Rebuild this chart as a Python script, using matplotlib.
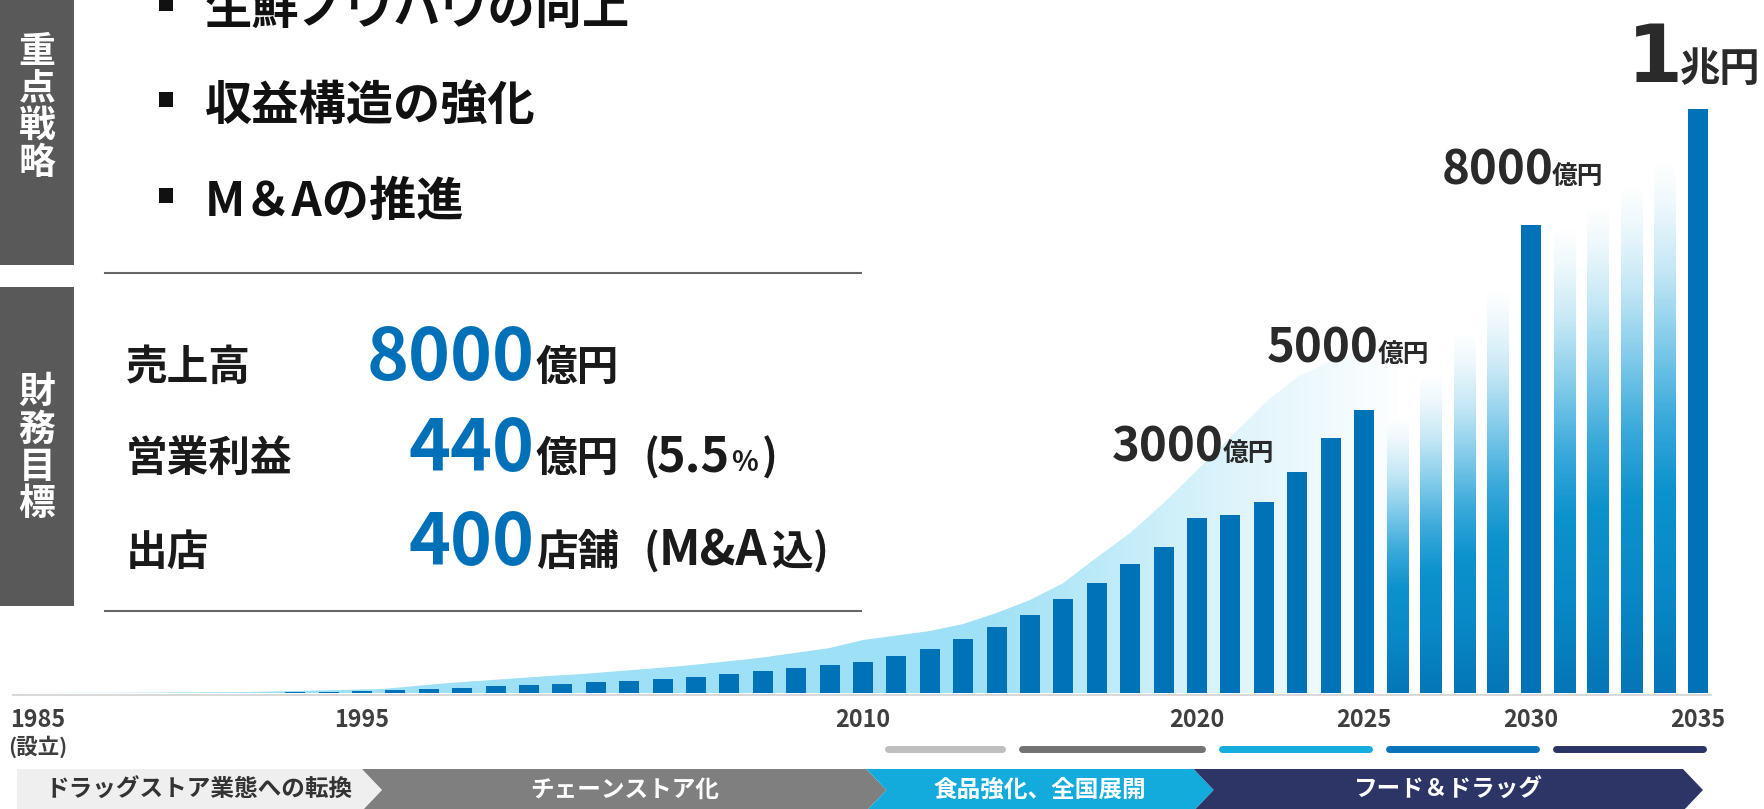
import numpy as np
import matplotlib
matplotlib.use("Agg")
import matplotlib.pyplot as plt
from matplotlib import font_manager as fm
from matplotlib.colors import LinearSegmentedColormap
from matplotlib.transforms import blended_transform_factory
from matplotlib.patches import Polygon, Rectangle

# ---------------- data ----------------
bar_years = list(range(1992, 2036))
bar_values = [3, 17, 22, 34, 51, 68, 86, 120, 137, 159, 183, 205, 240, 274,
              325, 377, 428, 479, 531, 633, 753, 924, 1130, 1335, 1609, 1883,
              2208, 2500, 2996, 3047, 3270, 3784, 4366, 4845, 4725, 5461, 6163,
              6899, 8012, 7961, 8355, 8731, 9091, 10000]
plan_years = [2026, 2027, 2028, 2029, 2031, 2032, 2033, 2034]

area_years = [1984.6, 1988, 1991.6, 1995.6, 1997.6, 2000.6, 2001.6, 2004.6,
              2006.6, 2007.1, 2009.0, 2010.0, 2012.0, 2013.0, 2014.0, 2015.0,
              2016.0, 2016.9, 2018.0, 2019.1, 2020.1, 2022.1, 2023.0, 2024.2,
              2025.1, 2026.0]
area_values = [0, 5, 17, 68, 171, 291, 325, 462, 582, 616, 770, 907, 1061,
               1181, 1370, 1592, 1883, 2277, 2739, 3304, 3869, 4999, 5410,
               5735, 5872, 5958]

tick_years = [1985, 1995, 2010, 2020, 2025, 2030, 2035]
tick_labels = ["1985", "1995", "2010", "2020", "2025", "2030", "2035"]

plan_start = [2011, 2015, 2021, 2026, 2031]
plan_end = [2014, 2020, 2025, 2030, 2035]
plan_colors = ["#bfbfbf", "#737373", "#14abdd", "#0a72b9", "#2b3467"]

era_bounds = [1984.67, 1995.0, 2010.1, 2019.9, 2034.55]
era_labels = ["ドラッグストア業態への転換", "チェーンストア化", "食品強化、全国展開", "フード＆ドラッグ"]
era_colors = ["#efefef", "#7f7f7f", "#13abdc", "#2c3566"]
era_text_colors = ["#333333", "white", "white", "white"]

strategies = ["生鮮ノウハウの向上", "収益構造の強化", "M＆Aの推進"]

# ---------------- fonts ----------------
names = {f.name for f in fm.fontManager.ttflist}
JP = "Noto Sans CJK JP"
NARROW = "Liberation Sans Narrow" if "Liberation Sans Narrow" in names else None


def nfont(sz):
    if NARROW:
        return dict(family=NARROW, size=sz, weight="bold")
    return dict(family=JP, size=sz * 0.8, weight="bold")


def jfont(sz):
    return dict(family=[JP, "DejaVu Sans"], size=sz, weight="bold")


W, H = 1765, 809
PX = 17.12  # 億円 per pixel of bar height
fig = plt.figure(figsize=(W / 100, H / 100), dpi=100)
fig.patch.set_facecolor("white")

# ---------------- chart axes ----------------
ax = fig.add_axes([12 / W, (H - 696) / H, 1700 / W, 696 / H], facecolor="none")
XL = (1984.52, 2035.42)
YL = (-3 * PX, 693 * PX)

area_cmap = LinearSegmentedColormap.from_list(
    "area", [(0, "#9ee0f6"), (0.69, "#9ee0f6"), (0.75, "#b2e7f8"),
             (0.821, "#cdeffa"), (0.893, "#e4f6fc"), (0.952, "#f3fbfe"),
             (1.0, "#ffffff")])
verts = list(zip(area_years, area_values)) + [(area_years[-1], 0), (area_years[0], 0)]
area_patch = Polygon(verts, closed=True, fc="none", ec="none")
ax.add_patch(area_patch)
hgrad = np.linspace(0, 1, 600)[None, :]
im = ax.imshow(hgrad, extent=(1984.5, 2026.5, 0, max(area_values) * 1.05),
               origin="lower", aspect="auto", cmap=area_cmap, zorder=1)
im.set_clip_path(area_patch)

ax.axhline(-1.5 * PX, color="#d9d9d9", lw=2.2, zorder=2)

solid_years = [y for y in bar_years if y not in plan_years]
solid_vals = [v for y, v in zip(bar_years, bar_values) if y not in plan_years]
grad_years = [y for y in bar_years if y in plan_years]
grad_vals = [v for y, v in zip(bar_years, bar_values) if y in plan_years]

ax.bar(solid_years, solid_vals, width=0.6, color="#0072b7", lw=0, zorder=3)
gbars = ax.bar(grad_years, grad_vals, width=0.63, color="none", lw=0, zorder=3)
bar_cmap = LinearSegmentedColormap.from_list(
    "bar", [(0, "#0576b8"), (0.2, "#0989c7"), (0.38, "#0c92cd"),
            (0.52, "#3caadb"), (0.66, "#82cbea"), (0.8, "#c6e8f6"),
            (0.92, "#eef8fc"), (1.0, "#ffffff")])
vgrad = np.linspace(0, 1, 400)[:, None]
for b in gbars:
    x0 = b.get_x()
    ax.imshow(vgrad, extent=(x0, x0 + b.get_width(), 0, b.get_height()),
              origin="lower", aspect="auto", cmap=bar_cmap, zorder=3)

ax.set_xlim(*XL)
ax.set_ylim(*YL)
ax.axis("off")

# ---------------- timeline axes ----------------
axt = fig.add_axes([12 / W, 0, 1700 / W, 84 / H], facecolor="none")
for s, e, c in zip(plan_start, plan_end, plan_colors):
    axt.plot([s - 0.25, e + 0.15], [749, 749], color=c, lw=5,
             solid_capstyle="round")
tip = 0.6
for i in range(len(era_labels)):
    a, b = era_bounds[i], era_bounds[i + 1]
    pts = [(a, 769), (b, 769), (b + tip, 790), (b, 811), (a, 811)]
    if i > 0:
        pts.append((a + tip, 790))
    axt.add_patch(Polygon(pts, closed=True, fc=era_colors[i], ec="none"))
    axt.text((a + b) / 2 + tip / 2, 797, era_labels[i], ha="center",
             va="baseline", color=era_text_colors[i], **jfont(17))
axt.set_xlim(*XL)
axt.set_ylim(809, 725)
axt.axis("off")

# ---------------- overlay (text & decorations, pixel coords) ----------------
ov = fig.add_axes([0, 0, 1, 1], facecolor="none")
ov.set_xlim(0, W)
ov.set_ylim(H, 0)
ov.axis("off")

tr = blended_transform_factory(ax.transData, ov.transData)
for y, lab in zip(tick_years, tick_labels):
    if y == tick_years[0]:
        ov.text(38, 727, lab, ha="center", va="baseline", color="#3f3f3f", **nfont(21))
    else:
        ov.text(y, 727, lab, transform=tr, ha="center", va="baseline",
                color="#3f3f3f", **nfont(21))
ov.text(38, 754, "(設立)", ha="center", va="baseline", color="#3f3f3f", **jfont(15.5))

# gray boxes with vertical titles
ov.add_patch(Rectangle((0, -10), 74, 275, fc="#595959", ec="none"))
ov.add_patch(Rectangle((0, 287), 74, 319, fc="#595959", ec="none"))
for i, ch in enumerate("重点戦略"):
    ov.text(37, 50 + 37 * i + 13, ch, ha="center", va="baseline", color="white", **jfont(26.5))
for i, ch in enumerate("財務目標"):
    ov.text(37, 390 + 37.5 * i + 13, ch, ha="center", va="baseline", color="white", **jfont(26.5))

# strategy bullets
for i, s in enumerate(strategies):
    base = 24 + 96 * i
    ov.add_patch(Rectangle((159, base - 28), 14, 15, fc="#111111", ec="none"))
    ov.text(205, base, s, ha="left", va="baseline", color="#111111", **jfont(34))

ov.plot([105, 861], [273, 273], color="#666666", lw=1.5)
ov.plot([105, 861], [611, 611], color="#666666", lw=1.5)

# financial targets
BLUE = "#0070b8"
DARK = "#1a1a1a"
rows = [("売上高", "8000", 380), ("営業利益", "440", 471), ("出店", "400", 565)]
for lab, num, base in rows:
    ov.text(126, base, lab, ha="left", va="baseline", color=DARK, **jfont(30))
    ov.text(535, base, num, ha="right", va="baseline", color=BLUE, **nfont(64))
ov.text(536, 380, "億円", ha="left", va="baseline", color=DARK, **jfont(30))
ov.text(536, 471, "億円", ha="left", va="baseline", color=DARK, **jfont(30))
ov.text(644, 471, "(", ha="left", va="baseline", color=DARK, **jfont(30))
ov.text(657, 471, "5.5", ha="left", va="baseline", color=DARK, **jfont(35))
ov.text(731, 471, "%", ha="left", va="baseline", color=DARK, **jfont(20))
ov.text(762, 471, ")", ha="left", va="baseline", color=DARK, **jfont(30))
ov.text(536, 565, "店舗", ha="left", va="baseline", color=DARK, **jfont(30))
ov.text(644, 565, "(", ha="left", va="baseline", color=DARK, **jfont(30))
ov.text(659, 565, "M&A", ha="left", va="baseline", color=DARK, **jfont(35))
ov.text(771, 565, "込", ha="left", va="baseline", color=DARK, **jfont(30))
ov.text(813, 565, ")", ha="left", va="baseline", color=DARK, **jfont(30))

# chart value labels
LBL = "#2a2a2a"
for num, x1, x2, base in [("3000", 1112, 1223, 461), ("5000", 1267, 1378, 362),
                          ("8000", 1442, 1552, 184)]:
    ov.text(x1, base, num, ha="left", va="baseline", color=LBL, **jfont(34))
    ov.text(x2, base, "億円", ha="left", va="baseline", color=LBL, **jfont(18.5))
ov.text(1627, 82, "1", ha="left", va="baseline", color=LBL,
        family="DejaVu Sans", weight="bold", size=58)
ov.text(1680, 81, "兆円", ha="left", va="baseline", color=LBL, **jfont(29))

fig.savefig("out.png", dpi=100, facecolor="white")
